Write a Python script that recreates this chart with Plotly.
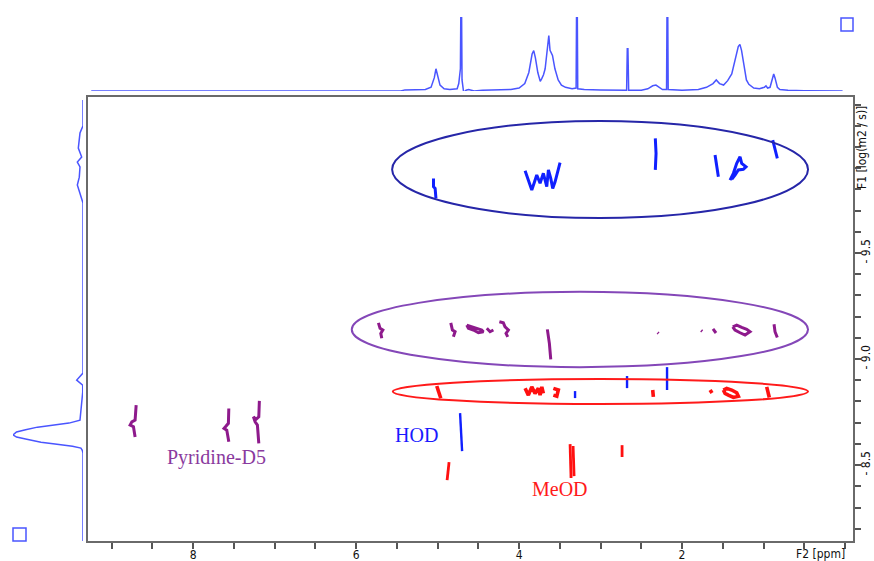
import plotly.graph_objects as go

# ---------------- data ----------------
# 1D projection on top (F2 chemical shift, ppm) - relative intensity
SPEC_PPM = [9.25, 5.45, 5.40, 5.15, 5.08, 5.04, 5.02, 5.00, 4.97, 4.92, 4.85, 4.76, 4.74, 4.72,
            4.715, 4.705, 4.70, 4.68, 4.65, 4.62, 4.55, 4.45, 4.30, 4.10, 4.00, 3.93, 3.88, 3.84,
            3.82, 3.80, 3.77, 3.74, 3.72, 3.70, 3.68, 3.655, 3.635, 3.62, 3.59, 3.56, 3.52, 3.48,
            3.43, 3.35, 3.30, 3.295, 3.285, 3.28, 3.20, 3.00, 2.80, 2.68, 2.672, 2.664, 2.655,
            2.50, 2.42, 2.36, 2.32, 2.28, 2.24, 2.19, 2.185, 2.175, 2.17, 2.00, 1.80, 1.70, 1.62,
            1.58, 1.54, 1.49, 1.44, 1.39, 1.35, 1.31, 1.29, 1.27, 1.24, 1.21, 1.18, 1.12, 1.05,
            0.99, 0.97, 0.95, 0.92, 0.89, 0.875, 0.86, 0.83, 0.80, 0.70, 0.50, 0.30, 0.03]
SPEC_INT = [0.0, 0.0, 0.015, 0.02, 0.05, 0.18, 0.30, 0.22, 0.08, 0.03, 0.02, 0.03, 0.10, 0.30,
            1.0, 1.0, 0.15, -0.02, 0.01, 0.02, 0.0, 0.01, 0.015, 0.02, 0.04, 0.10, 0.25, 0.50,
            0.545, 0.45, 0.25, 0.13, 0.17, 0.22, 0.30, 0.55, 0.75, 0.55, 0.48, 0.30, 0.15, 0.08,
            0.05, 0.03, 0.04, 1.0, 1.0, 0.03, 0.02, 0.015, 0.01, 0.01, 0.57, 0.57, 0.01,
            0.01, 0.03, 0.07, 0.08, 0.05, 0.02, 0.02, 1.0, 1.0, 0.02, 0.01, 0.02, 0.05, 0.10,
            0.15, 0.10, 0.08, 0.14, 0.23, 0.40, 0.60, 0.63, 0.55, 0.35, 0.15, 0.09, 0.04, 0.03,
            0.05, 0.07, 0.04, 0.05, 0.17, 0.23, 0.18, 0.05, 0.02, 0.01, 0.005, 0.0, 0.0]

# 1D projection on the left (F1, log D) - relative intensity
PROJ_LOGD = [-10.222, -10.10, -10.066, -9.995, -9.953, -9.929, -9.906, -9.858, -9.821, -9.783,
             -9.736, -9.70, -8.934, -8.901, -8.877, -8.844, -8.792, -8.712, -8.698, -8.689,
             -8.679, -8.667, -8.656, -8.642, -8.632, -8.623, -8.608, -8.599, -8.589, -8.580,
             -8.570, -8.557, -8.142]
PROJ_INT = [0.0, 0.0, 0.043, 0.067, 0.019, 0.081, 0.043, 0.053, 0.081, 0.043,
            0.0, 0.0, 0.0, 0.09, 0.004, 0.004, 0.019, 0.043, 0.20, 0.45,
            0.65, 0.82, 0.95, 1.0, 0.95, 0.82, 0.60, 0.40, 0.15, 0.03,
            0.01, 0.0, 0.0]

# 2D cross peaks (ppm, log(m2/s)); None separates individual peaks
BLUE_TOP_PPM = [5.05, 5.05, 5.03, 5.02, None,
                3.926, 3.886, 3.844, 3.816, 3.783, 3.742, 3.702, 3.660, 3.640, 3.611, 3.587, 3.558, 3.530, 3.497, None,
                2.328, 2.319, 2.328, None,
                1.595, 1.554, None,
                1.411, 1.370, 1.329, 1.288, 1.268, 1.215, 1.248, 1.309, 1.350, 1.390, None,
                0.887, 0.859, 0.831]
BLUE_TOP_LOGD = [-9.852, -9.813, -9.805, -9.758, None,
                 -9.888, -9.844, -9.797, -9.829, -9.868, -9.829, -9.876, -9.813, -9.892, -9.852, -9.805, -9.836, -9.876, -9.926, None,
                 -10.041, -9.970, -9.892, None,
                 -9.962, -9.860, None,
                 -9.844, -9.876, -9.923, -9.954, -9.923, -9.907, -9.895, -9.892, -9.868, -9.848, None,
                 -10.033, -9.986, -9.947]

BLUE_LOW_PPM = [2.675, 2.675, None, 2.184, 2.184, None, 3.313, 3.313, None, 4.724, 4.712, 4.699]
BLUE_LOW_LOGD = [-8.920, -8.863, None, -8.962, -8.854, None, -8.849, -8.816, None, -8.745, -8.656, -8.566]

PURPLE_PPM = [5.726, 5.706, 5.672, 5.697, 5.685, None,
              4.838, 4.818, 4.785, 4.806, None,
              4.642, 4.580, 4.519, 4.458, 4.438, 4.499, 4.561, 4.622, 4.642, None,
              4.396, 4.356, 4.315, None,
              4.242, 4.193, 4.172, 4.131, 4.160, 4.139, None,
              3.653, 3.628, 3.611, None,
              2.300, 2.288, None,
              1.765, 1.753, None,
              1.620, 1.583, None,
              1.378, 1.329, 1.268, 1.206, 1.166, 1.227, 1.288, 1.350, 1.378, None,
              0.871, 0.859, 0.831]
PURPLE_LOGD = [-9.171, -9.145, -9.137, -9.121, -9.098, None,
               -9.171, -9.137, -9.129, -9.105, None,
               -9.160, -9.152, -9.145, -9.137, -9.129, -9.124, -9.137, -9.145, -9.160, None,
               -9.145, -9.129, -9.137, None,
               -9.176, -9.171, -9.152, -9.137, -9.121, -9.105, None,
               -9.140, -9.074, -8.999, None,
               -9.125, -9.121, None,
               -9.135, -9.131, None,
               -9.142, -9.123, None,
               -9.152, -9.160, -9.149, -9.140, -9.129, -9.113, -9.124, -9.137, -9.152, None,
               -9.164, -9.129, -9.102]

PYRIDINE_PPM = [8.699, 8.712, 8.752, 8.773, 8.732, 8.712, None,
                7.562, 7.567, 7.595, 7.620, 7.587, 7.562, None,
                7.187, 7.194, 7.227, 7.260, 7.239, 7.211, 7.194]
PYRIDINE_LOGD = [-8.783, -8.712, -8.704, -8.689, -8.681, -8.633, None,
                 -8.767, -8.697, -8.684, -8.673, -8.665, -8.610, None,
                 -8.803, -8.728, -8.716, -8.728, -8.704, -8.689, -8.602]

RED_BAND_PPM = [5.010, 4.978, 4.961, None,
                3.926, 3.886, 3.844, 3.804, 3.763, 3.742, 3.721, 3.702, None,
                3.579, 3.518, 3.537, 3.579, None,
                2.360, 2.352, None,
                1.656, 1.632, None,
                1.493, 1.452, 1.390, 1.329, 1.309, 1.370, 1.432, 1.472, 1.493, None,
                0.961, 0.941, 0.929]
RED_BAND_LOGD = [-8.873, -8.838, -8.815, None,
                 -8.862, -8.830, -8.869, -8.838, -8.862, -8.830, -8.869, -8.838, None,
                 -8.862, -8.854, -8.825, -8.830, None,
                 -8.854, -8.822, None,
                 -8.854, -8.840, None,
                 -8.854, -8.862, -8.854, -8.841, -8.825, -8.819, -8.830, -8.838, -8.854, None,
                 -8.869, -8.838, -8.819]

RED_LOW_PPM = [4.859, 4.871, 4.883, None, 3.374, 3.362, None, 3.337, 3.325, None, 2.736, 2.736]
RED_LOW_LOGD = [-8.514, -8.467, -8.429, None, -8.599, -8.439, None, -8.590, -8.448, None, -8.594, -8.538]

# highlighted groups (ellipses): ppm from, ppm to, logD from, logD to
BLUE_ELLIPSE = [5.558, 0.454, -10.123, -9.665]
PURPLE_ELLIPSE = [6.053, 0.454, -9.317, -8.962]
RED_ELLIPSE = [5.550, 0.454, -8.906, -8.788]

# labels: text, ppm, logD
LABELS = [("Pyridine-D5", 7.718, -8.538), ("HOD", 5.264, -8.642), ("MeOD", 3.497, -8.387)]

X_TICKS = [9.0, 8.5, 8.0, 7.5, 7.0, 6.5, 6.0, 5.5, 5.0, 4.5, 4.0, 3.5, 3.0, 2.5, 2.0, 1.5, 1.0, 0.5, 0.0]
X_TICK_TEXT = ["", "", "8", "", "", "", "6", "", "", "", "4", "", "", "", "2", "", "", "", ""]
Y_TICKS = [-10.2, -10.1, -10.0, -9.9, -9.8, -9.7, -9.6, -9.5, -9.4, -9.3, -9.2, -9.1, -9.0,
           -8.9, -8.8, -8.7, -8.6, -8.5, -8.4, -8.3, -8.2]
Y_TICK_TEXT = ["", "", "", "", "", "", "", "- 9.5", "", "", "", "", "- 9.0",
               "", "", "", "", "- 8.5", "", "", ""]

# ---------------- figure ----------------
W, H = 874, 561
X_RANGE = [9.29, -0.098]
Y_RANGE = [-8.142, -10.236]
MAIN_XD = [88 / W, 853 / W]
MAIN_YD = [1 - 541 / H, 1 - 97 / H]

PROJ_BLUE = "#4a55ff"
PEAK_BLUE = "#1020ff"
PURPLE = "#8e1a8c"
RED = "#ff1010"
TICK_FONT = dict(family="DejaVu Sans Condensed, Liberation Sans Narrow, Arial", size=12, color="#111")

fig = go.Figure()

fig.add_trace(go.Scatter(x=SPEC_PPM, y=SPEC_INT, xaxis="x2", yaxis="y2", mode="lines",
                         line=dict(color=PROJ_BLUE, width=1.5), hoverinfo="skip"))
fig.add_trace(go.Scatter(x=PROJ_INT, y=PROJ_LOGD, xaxis="x3", yaxis="y3", mode="lines",
                         line=dict(color=PROJ_BLUE, width=1.5), hoverinfo="skip"))

for px, py, col, w in [(BLUE_TOP_PPM, BLUE_TOP_LOGD, PEAK_BLUE, 3.0),
                       (BLUE_LOW_PPM, BLUE_LOW_LOGD, PEAK_BLUE, 2.4),
                       (PURPLE_PPM, PURPLE_LOGD, PURPLE, 3.0),
                       (PYRIDINE_PPM, PYRIDINE_LOGD, PURPLE, 3.0),
                       (RED_BAND_PPM, RED_BAND_LOGD, RED, 3.6),
                       (RED_LOW_PPM, RED_LOW_LOGD, RED, 2.8)]:
    fig.add_trace(go.Scatter(x=px, y=py, xaxis="x", yaxis="y", mode="lines",
                             line=dict(color=col, width=w), connectgaps=False, hoverinfo="skip"))

shapes = []
for (x0, x1, y0, y1), col in [(BLUE_ELLIPSE, "#2626a8"), (PURPLE_ELLIPSE, "#8447b8"), (RED_ELLIPSE, "#ff1a1a")]:
    shapes.append(dict(type="circle", xref="x", yref="y", x0=x0, x1=x1, y0=y0, y1=y1,
                       line=dict(color=col, width=2)))
# small square markers
shapes.append(dict(type="rect", xref="paper", yref="paper", x0=841 / W, x1=853 / W,
                   y0=1 - 31 / H, y1=1 - 18 / H, line=dict(color=PROJ_BLUE, width=1.5)))
shapes.append(dict(type="rect", xref="paper", yref="paper", x0=13 / W, x1=26 / W,
                   y0=1 - 541 / H, y1=1 - 528 / H, line=dict(color=PROJ_BLUE, width=1.5)))

annotations = []
label_colors = {"Pyridine-D5": "#8a3a9e", "HOD": "#1a1aff", "MeOD": "#ff1a1a"}
for txt, lx, ly in LABELS:
    annotations.append(dict(text=txt, x=lx, y=ly, xref="x", yref="y", showarrow=False,
                            font=dict(family="Liberation Serif, Times New Roman, serif", size=20,
                                      color=label_colors[txt])))
annotations.append(dict(text="F2 [ppm]", x=820 / W, y=1 - 554 / H, xref="paper", yref="paper",
                        showarrow=False, font=TICK_FONT, xanchor="center", yanchor="middle"))
annotations.append(dict(text="F1 [log(m2 / s)]", x=862 / W, y=1 - 148 / H, xref="paper", yref="paper",
                        showarrow=False, font=TICK_FONT, textangle=-90, xanchor="center", yanchor="middle"))

fig.update_layout(
    width=W, height=H, margin=dict(l=0, r=0, t=0, b=0),
    paper_bgcolor="white", plot_bgcolor="white", showlegend=False,
    shapes=shapes, annotations=annotations,
    xaxis=dict(domain=MAIN_XD, range=X_RANGE, anchor="y", showgrid=False, zeroline=False,
               showline=True, mirror=True, linecolor="#6a6a6a", linewidth=2,
               ticks="outside", ticklen=6, tickwidth=1.5, tickcolor="#555",
               tickvals=X_TICKS, ticktext=X_TICK_TEXT, tickfont=TICK_FONT, automargin=False,
               ticklabelstandoff=-4),
    yaxis=dict(domain=MAIN_YD, range=Y_RANGE, anchor="x", side="right", showgrid=False, zeroline=False,
               showline=True, mirror=True, linecolor="#6a6a6a", linewidth=2,
               ticks="outside", ticklen=6, tickwidth=1.5, tickcolor="#555",
               tickvals=Y_TICKS, ticktext=Y_TICK_TEXT, tickangle=-90, tickfont=TICK_FONT,
               automargin=False, ticklabelstandoff=-5),
    xaxis2=dict(domain=MAIN_XD, range=X_RANGE, anchor="y2", visible=False),
    yaxis2=dict(domain=[1 - 91 / H, 1 - 17 / H], range=[0, 1], anchor="x2", visible=False),
    xaxis3=dict(domain=[13 / W, 83 / W], range=[1, 0], anchor="y3", visible=False),
    yaxis3=dict(domain=MAIN_YD, range=Y_RANGE, anchor="x3", visible=False),
)

fig.write_html("out.html", config={"displayModeBar": False},
               post_script="document.body.style.margin='0';document.body.style.overflow='hidden';")
